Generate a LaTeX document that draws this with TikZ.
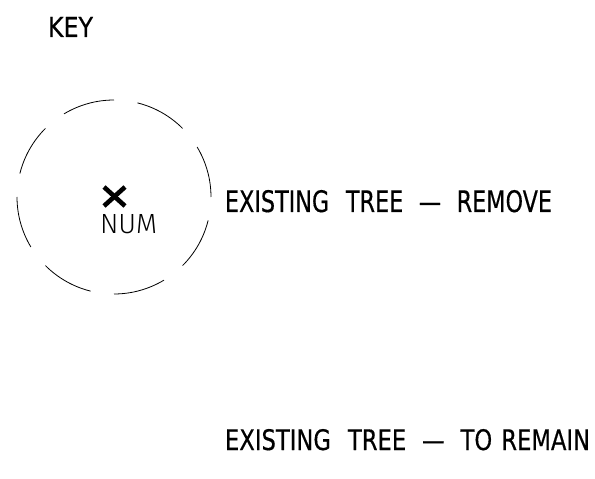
\documentclass[tikz,border=0pt]{standalone}
\usepackage{fontspec}
\setmainfont{DejaVu Sans}
\newfontfamily\cadfont[FakeBold=0.5]{DejaVu Sans}
\newfontfamily\numfont{Fira Sans Light}
\begin{document}
\begin{tikzpicture}[x=1bp,y=-1bp,
  lbl/.style={anchor=base west, inner sep=0pt, outer sep=0pt, text=black},
  treeline/.style={line width=0.8bp, black},
  cross/.style={line width=4.6bp, black}]
\useasboundingbox[fill=white] (0,0) rectangle (595,479);
% key title
\node[lbl] (key) at (48,37) {\resizebox{45bp}{20bp}{\cadfont KEY}};
% tree symbol: dashed canopy
\coordinate (c) at (114,197);
\foreach \m in {0,...,7}{
  \draw[treeline] ([shift={(45*\m+14:97)}]c) arc[start angle=45*\m+14, end angle=45*\m+45, radius=97];
}
% cross marker
\coordinate (xa) at (104,187);
\coordinate (xb) at (125,206);
\coordinate (xc) at (104,206);
\coordinate (xd) at (125,187);
\draw[cross] (xa) -- (xb);
\draw[cross] (xc) -- (xd);
\node[lbl] (num) at (100,234) {\resizebox{57bp}{19bp}{\numfont NUM}};
% legend texts
\node[lbl] (remove) at (225,212) {\resizebox{327bp}{22bp}{\cadfont EXISTING\hspace{0.75em}TREE\hspace{0.7em}—\hspace{0.7em}REMOVE}};
\node[lbl] (remain) at (225,450) {\resizebox{365bp}{21bp}{\cadfont EXISTING\hspace{0.75em}TREE\hspace{0.7em}—\hspace{0.7em}TO\hspace{0.4em}REMAIN}};
\end{tikzpicture}
\end{document}
